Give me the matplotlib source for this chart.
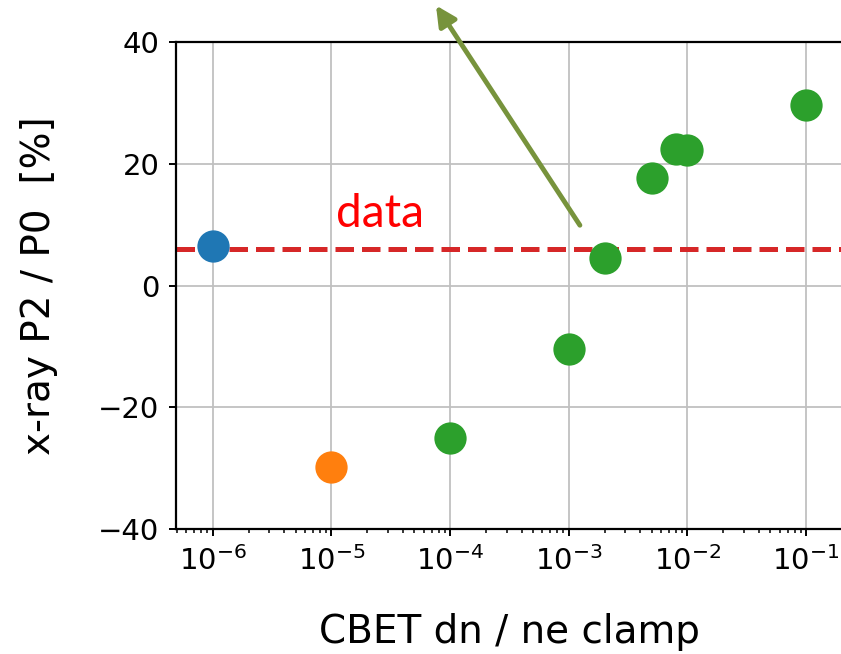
import numpy as np
import matplotlib.pyplot as plt

# CBET clamp scan: x-ray P2/P0 asymmetry vs dn/ne clamp value
clamp_blue = [1e-6]
p2_blue = [6.5]
clamp_orange = [1e-5]
p2_orange = [-29.8]
clamp_green = [1e-4, 1e-3, 2e-3, 5e-3, 8e-3, 1e-2, 1e-1]
p2_green = [-25.0, -10.5, 4.5, 17.6, 22.4, 22.2, 29.7]
p2_data = 6.0

fig = plt.figure(figsize=(8.41, 6.54), dpi=100)
ax = fig.add_axes([0.2093, 0.1911, 0.793, 0.7447])

ax.axhline(p2_data, color="#d62728", ls="--", lw=3.6, zorder=2)
ax.scatter(clamp_blue, p2_blue, s=540, color="#1f77b4", zorder=3, linewidths=0)
ax.scatter(clamp_orange, p2_orange, s=540, color="#ff7f0e", zorder=3, linewidths=0)
ax.scatter(clamp_green, p2_green, s=540, color="#2ca02c", zorder=3, linewidths=0)

ax.set_xscale("log")
ax.set_xlim(10**-6.31, 10**-0.69)
ax.set_ylim(-40, 40)
ax.set_yticks([-40, -20, 0, 20, 40])
ax.grid(True, which="major", color="#c0c0c0", lw=1.3)
ax.set_axisbelow(True)

for s in ax.spines.values():
    s.set_linewidth(1.6)
ax.tick_params(which="major", labelsize=21, length=5, width=1.4, pad=7)
ax.tick_params(which="minor", length=3, width=1.1)

ax.set_xlabel("CBET dn / ne clamp", fontsize=28, labelpad=27)
ax.set_ylabel("x-ray P2 / P0  [%]", fontsize=28, labelpad=29)

ax.text(10**-4.59, 9.6, "data", color="red", fontsize=33, family="Lato",
        ha="center", va="baseline")

ax.annotate("", xy=(7.6e-5, 46.0), xytext=(1.24e-3, 9.9),
            arrowprops=dict(arrowstyle="-|>,head_length=1.2,head_width=0.6",
                            color="#77933c", lw=3.5, shrinkA=0, shrinkB=0),
            annotation_clip=False)

fig.savefig("out.png", dpi=100)
